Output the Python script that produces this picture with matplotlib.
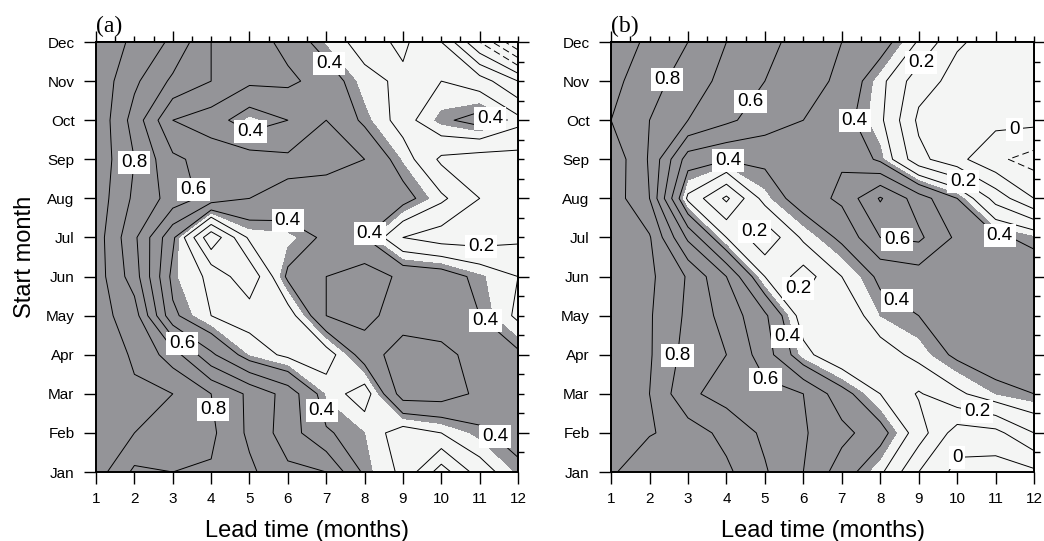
import numpy as np
import matplotlib
matplotlib.use('Agg')
import matplotlib.pyplot as plt

plt.rcParams['font.family'] = ['Liberation Sans', 'DejaVu Sans']

# lead time (months) and start months
lead = np.arange(1, 13)
start = np.arange(1, 13)
month_names = ['Jan', 'Feb', 'Mar', 'Apr', 'May', 'Jun',
               'Jul', 'Aug', 'Sep', 'Oct', 'Nov', 'Dec']

# correlation skill, rows = start month Jan..Dec, cols = lead 1..12
corr_a = np.array([
    [0.95, 0.78, 0.80, 0.79, 0.72, 0.62, 0.60, 0.38, 0.28, 0.05, 0.25, 0.37],
    [0.92, 0.90, 0.86, 0.82, 0.68, 0.55, 0.41, 0.36, 0.25, 0.30, 0.38, 0.45],
    [0.93, 0.91, 0.90, 0.80, 0.68, 0.56, 0.35, 0.25, 0.55, 0.55, 0.48, 0.44],
    [0.95, 0.89, 0.75, 0.52, 0.35, 0.28, 0.25, 0.45, 0.55, 0.53, 0.46, 0.42],
    [0.94, 0.85, 0.42, 0.30, 0.26, 0.25, 0.50, 0.53, 0.45, 0.44, 0.40, 0.28],
    [0.95, 0.75, 0.37, 0.28, 0.12, 0.42, 0.50, 0.55, 0.48, 0.46, 0.37, 0.30],
    [0.95, 0.72, 0.42, 0.02, 0.32, 0.34, 0.42, 0.40, 0.20, 0.15, 0.15, 0.18],
    [0.96, 0.78, 0.66, 0.56, 0.50, 0.48, 0.47, 0.46, 0.44, 0.32, 0.20, 0.15],
    [0.97, 0.80, 0.62, 0.56, 0.55, 0.52, 0.52, 0.50, 0.35, 0.18, 0.15, 0.16],
    [0.98, 0.76, 0.50, 0.45, 0.34, 0.40, 0.50, 0.38, 0.26, 0.38, 0.44, 0.33],
    [0.97, 0.82, 0.68, 0.60, 0.52, 0.52, 0.46, 0.33, 0.28, 0.30, 0.25, 0.10],
    [0.97, 0.88, 0.78, 0.60, 0.55, 0.47, 0.35, 0.26, 0.32, 0.20, -0.10, -0.40],
])

corr_b = np.array([
    [0.92, 0.80, 0.86, 0.82, 0.71, 0.60, 0.45, 0.32, 0.10, -0.03, -0.05, -0.02],
    [0.95, 0.91, 0.85, 0.77, 0.68, 0.61, 0.53, 0.44, 0.25, 0.05, 0.07, 0.20],
    [0.95, 0.90, 0.72, 0.66, 0.63, 0.60, 0.44, 0.30, 0.19, 0.28, 0.36, 0.40],
    [0.95, 0.91, 0.76, 0.70, 0.55, 0.33, 0.22, 0.25, 0.33, 0.42, 0.47, 0.50],
    [0.95, 0.91, 0.78, 0.66, 0.52, 0.25, 0.22, 0.36, 0.40, 0.47, 0.50, 0.50],
    [0.95, 0.92, 0.79, 0.60, 0.30, 0.15, 0.30, 0.42, 0.45, 0.47, 0.47, 0.47],
    [0.96, 0.91, 0.58, 0.30, 0.12, 0.32, 0.42, 0.60, 0.62, 0.48, 0.42, 0.37],
    [0.96, 0.80, 0.28, 0.08, 0.34, 0.45, 0.52, 0.71, 0.55, 0.40, 0.16, 0.00],
    [0.97, 0.79, 0.45, 0.41, 0.42, 0.46, 0.49, 0.38, 0.13, 0.03, -0.08, -0.14],
    [0.90, 0.80, 0.70, 0.62, 0.55, 0.50, 0.44, 0.32, 0.08, 0.05, 0.03, 0.03],
    [0.93, 0.84, 0.75, 0.67, 0.60, 0.54, 0.48, 0.33, 0.14, 0.07, 0.06, 0.06],
    [0.96, 0.88, 0.80, 0.70, 0.63, 0.56, 0.50, 0.45, 0.29, 0.11, 0.07, 0.06],
])

# contour label spots (lead, start month, level)
labels_a = [(7.0, 11.4, 0.4), (11.45, 10.35, 0.4), (5.07, 9.57, 0.4),
            (1.83, 8.93, 0.8), (4.0, 8.34, 0.6), (6.0, 7.52, 0.4),
            (8.0, 7.27, 0.4), (11.04, 6.76, 0.2), (11.0, 4.69, 0.4),
            (3.37, 4.46, 0.6), (3.82, 2.56, 0.8), (6.47, 2.46, 0.4),
            (11.35, 1.85, 0.4)]
labels_b = [(2.56, 10.98, 0.8), (9.0, 11.54, 0.2), (4.64, 10.47, 0.6),
            (6.98, 9.95, 0.4), (11.48, 9.85, 0.0), (4.02, 8.88, 0.4),
            (10.0, 8.21, 0.2), (4.54, 7.37, 0.2), (8.44, 6.99, 0.6),
            (11.04, 6.73, 0.4), (8.83, 5.99, 0.4), (5.55, 5.48, 0.2),
            (5.47, 4.43, 0.4), (2.77, 3.97, 0.8), (5.0, 3.33, 0.6),
            (10.52, 2.54, 0.2), (9.84, 1.49, 0.0)]

levels = np.round(np.arange(-5, 10) * 0.1, 1)
line_styles = [(0, (7, 4)) if l < 0 else 'solid' for l in levels]
shade_cut = 0.36
gray = '#949498'
light = '#f4f5f4'


def fmt(v):
    return '0' if abs(v) < 1e-9 else '%.1f' % v


def nearest_on_level(cs, lev, x, y):
    # closest point on the drawn contour of this level
    i = int(np.argmin(np.abs(np.asarray(cs.levels) - lev)))
    best, bd = (x, y), np.inf
    p = np.array([x, y])
    for seg in cs.allsegs[i]:
        if len(seg) < 2:
            continue
        a, b = seg[:-1], seg[1:]
        d = b - a
        ll = (d ** 2).sum(1)
        ll[ll == 0] = 1e-12
        t = np.clip(((p - a) * d).sum(1) / ll, 0, 1)
        q = a + d * t[:, None]
        dist = ((q - p) ** 2).sum(1)
        k = int(np.argmin(dist))
        if dist[k] < bd:
            bd, best = dist[k], tuple(q[k])
    return best


def draw_panel(ax, z, labels, tag):
    ax.contourf(lead, start, z, levels=[-1.0, shade_cut, 1.1], colors=[light, gray])
    cs = ax.contour(lead, start, z, levels=levels, colors='k', linewidths=0.7,
                    linestyles=line_styles)
    for x, y, lev in labels:
        px, py = nearest_on_level(cs, lev, x, y)
        ax.text(px, py, fmt(lev), fontsize=13.5, ha='center', va='center', zorder=5,
                bbox=dict(boxstyle='square,pad=0.16', fc='white', ec='none'))

    ax.set_xlim(1, 12)
    ax.set_ylim(1, 12)
    ax.set_xticks(lead)
    ax.set_yticks(start)
    ax.set_yticklabels(month_names)
    ax.tick_params(axis='both', direction='out', length=8.5, width=1.0,
                   top=False, right=False)
    ax.tick_params(axis='x', labelsize=11, pad=6)
    ax.tick_params(axis='y', labelsize=11, pad=7)

    top = ax.secondary_xaxis('top')
    top.set_xticks(np.arange(1, 13, 2))
    top.set_xticks(np.arange(1.5, 12.1, 0.5), minor=True)
    top.tick_params(which='major', direction='out', length=8, width=1.0, labeltop=False)
    top.tick_params(which='minor', direction='out', length=4, width=1.0)
    right = ax.secondary_yaxis('right')
    right.set_yticks(np.arange(2, 13, 2))
    right.set_yticks(np.arange(1.5, 12.1, 0.5), minor=True)
    right.tick_params(which='major', direction='out', length=8, width=1.0, labelright=False)
    right.tick_params(which='minor', direction='out', length=4, width=1.0)
    for a in (ax, top, right):
        for sp in a.spines.values():
            sp.set_linewidth(1.4)

    ax.set_xlabel('Lead time (months)', fontsize=17, labelpad=10)
    ax.text(0.0, 1.012, tag, transform=ax.transAxes, ha='left', va='bottom',
            fontsize=17, family='Liberation Serif')


fig = plt.figure(figsize=(10.44, 5.41), dpi=100)
ax_a = fig.add_axes([0.0920, 0.1275, 0.4042, 0.7948])
ax_b = fig.add_axes([0.5853, 0.1275, 0.4052, 0.7948])

draw_panel(ax_a, corr_a, labels_a, '(a)')
draw_panel(ax_b, corr_b, labels_b, '(b)')
ax_a.set_ylabel('Start month', fontsize=17, labelpad=7)

fig.savefig('out.png', dpi=100)
